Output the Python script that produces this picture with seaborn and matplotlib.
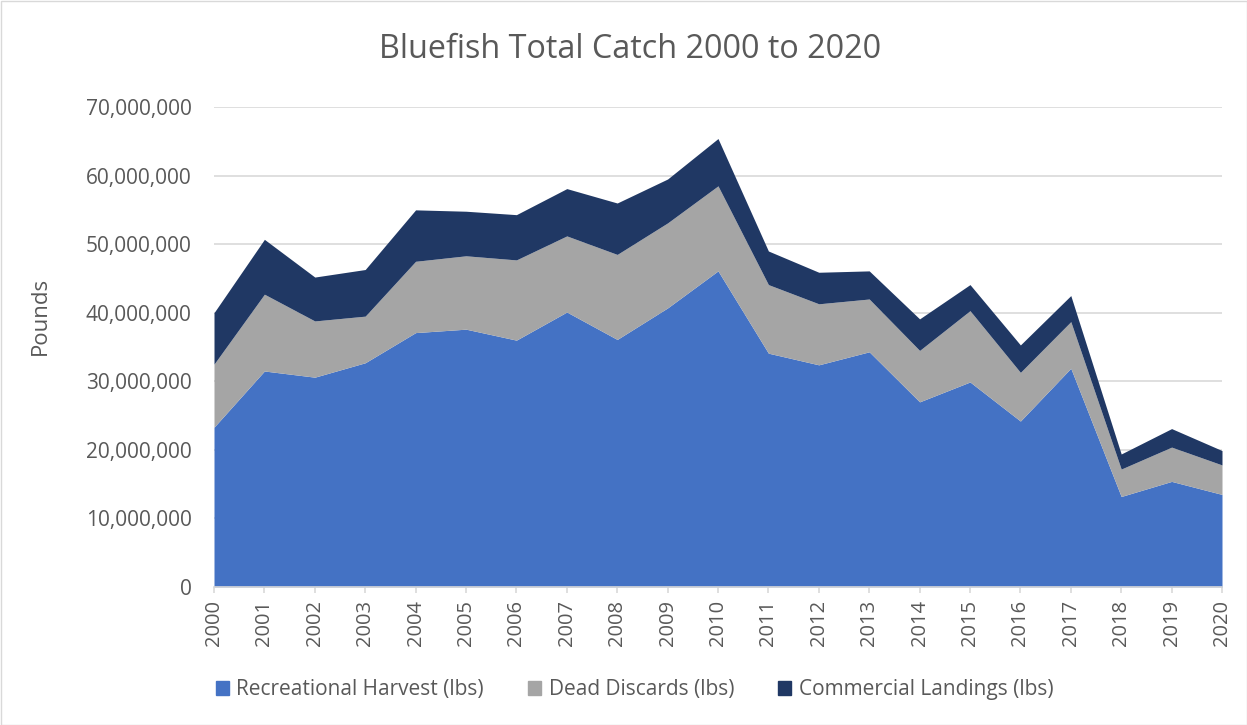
import numpy as np
import pandas as pd
import seaborn as sns
import matplotlib
matplotlib.use("Agg")
import matplotlib.pyplot as plt
from matplotlib.ticker import FuncFormatter
from matplotlib.patches import Rectangle, Patch

years = list(range(2000, 2021))
recreational = [23.3, 31.5, 30.6, 32.7, 37.1, 37.6, 36.0, 40.1, 36.1, 40.7, 46.1,
                34.1, 32.4, 34.3, 27.0, 29.9, 24.2, 31.9, 13.2, 15.4, 13.5]
discards = [9.2, 11.2, 8.2, 6.8, 10.4, 10.7, 11.7, 11.1, 12.4, 12.4, 12.4,
            10.0, 8.9, 7.7, 7.5, 10.4, 7.1, 6.8, 4.0, 5.0, 4.3]
commercial = [7.5, 8.0, 6.4, 6.8, 7.5, 6.5, 6.6, 6.9, 7.5, 6.4, 6.9,
              4.9, 4.6, 4.1, 4.6, 3.8, 4.0, 3.8, 2.2, 2.7, 2.1]
series_names = ["Recreational Harvest (lbs)", "Dead Discards (lbs)", "Commercial Landings (lbs)"]
colors = ["#4472C4", "#A5A5A5", "#203864"]

df = pd.DataFrame({
    "Year": years,
    series_names[0]: np.array(recreational) * 1e6,
    series_names[1]: np.array(discards) * 1e6,
    series_names[2]: np.array(commercial) * 1e6,
})

sns.set_theme(style="white")
plt.rcParams['font.family'] = ['Open Sans', 'DejaVu Sans']
text_color = "#595959"

fig = plt.figure(figsize=(12.47, 7.25), dpi=100)
ax = fig.add_axes([214/1247, 1-587/725, (1222-214)/1247, (587-107)/725])

ax.stackplot(df["Year"], df[series_names[0]], df[series_names[1]], df[series_names[2]],
             colors=colors, linewidth=0, zorder=2)

ax.set_xlim(2000, 2020)
ax.set_ylim(0, 70e6)
ax.set_yticks(np.arange(0, 70e6 + 1, 10e6))
ax.yaxis.set_major_formatter(FuncFormatter(lambda v, p: f"{int(v):,}"))
ax.set_xticks(years)
ax.set_xticklabels([str(y) for y in years], rotation=90)
ax.grid(axis="y", color="#D9D9D9", linewidth=1.2, zorder=0)
ax.set_axisbelow(True)
sns.despine(ax=ax, left=True, right=True, top=True)
ax.spines["bottom"].set_color("#D9D9D9")
ax.spines["bottom"].set_linewidth(1.2)
ax.tick_params(axis="x", colors=text_color, labelsize=14.5, length=4.5, width=1.2,
               color="#D9D9D9", pad=5, bottom=True)
ax.tick_params(axis="y", colors=text_color, labelsize=15, length=0, pad=16)

fig.text(40/1247, 1-316/725, "Pounds", rotation=90, ha="center", va="center",
         fontsize=16, color=text_color)
fig.text(630/1247, 1-50/725, "Bluefish Total Catch 2000 to 2020", ha="center", va="center",
         fontsize=23.3, color=text_color)

handles = [Patch(facecolor=c, edgecolor=c) for c in colors]
fig.legend(handles, series_names, loc="center", bbox_to_anchor=(634.5/1247, 1-690/725),
           ncol=3, frameon=False, fontsize=15, labelcolor=text_color,
           handlelength=0.65, handleheight=0.65, handletextpad=0.35, columnspacing=2.1)

fig.patches.append(Rectangle((0.5/1247, 0.5/725), 1-1/1247, 1-1/725, transform=fig.transFigure,
                             fill=False, edgecolor="#D9D9D9", linewidth=1))

fig.savefig("out.png", dpi=100)
